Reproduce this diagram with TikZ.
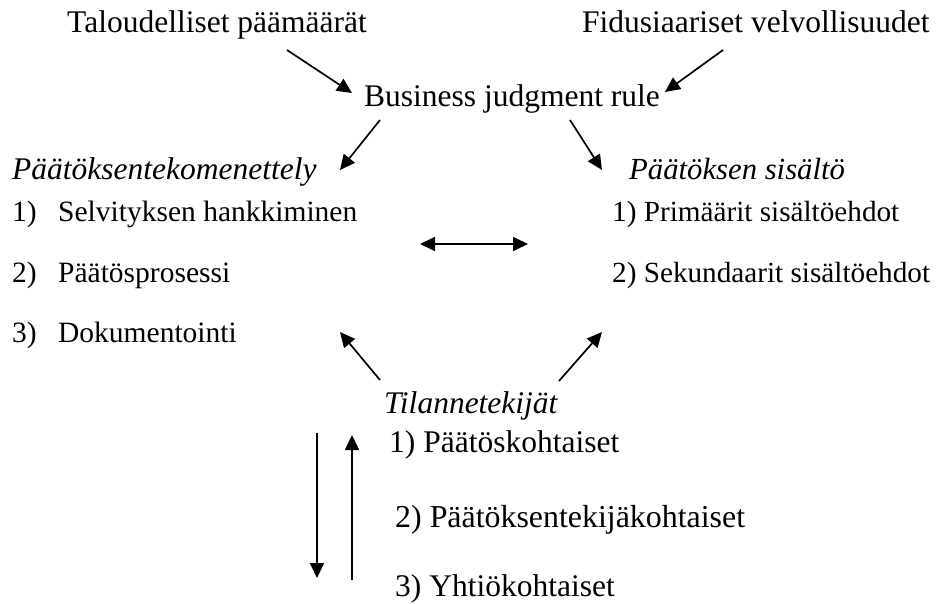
\documentclass[tikz,border=0pt]{standalone}
\usepackage{fontspec}
\setmainfont{Liberation Serif}
\usetikzlibrary{arrows.meta}
\begin{document}
\begin{tikzpicture}[x=1pt,y=-1pt,
  txt/.style={inner sep=0pt,anchor=base west,font=\fontsize{31.5}{36}\selectfont},
  itx/.style={txt,font=\fontsize{31.5}{36}\selectfont\itshape},
  lst/.style={txt,font=\fontsize{29.5}{34}\selectfont},
  arr/.style={line width=1.7pt,-{Triangle[length=15pt,width=14pt]}},
  darr/.style={line width=1.7pt,{Triangle[length=15pt,width=14pt]}-{Triangle[length=15pt,width=14pt]}}]
\useasboundingbox (0,0) rectangle (939,604);
% top
\node[txt] (tal) at (67,33) {Taloudelliset päämäärät};
\node[txt] (fid) at (582,33) {Fidusiaariset velvollisuudet};
\node[txt] (bjr) at (364,107) {Business judgment rule};
% left column
\node[itx] (pm) at (12,180) {Päätöksentekomenettely};
\node[lst] (l1n) at (12,222) {1)};
\node[lst] (l1) at (58,222) {Selvityksen hankkiminen};
\node[lst] (l2n) at (12,282) {2)};
\node[lst] (l2) at (58,282) {Päätösprosessi};
\node[lst] (l3n) at (12,342) {3)};
\node[lst] (l3) at (58,342) {Dokumentointi};
% right column
\node[itx,font=\fontsize{30.7}{36}\selectfont\itshape] (ps) at (629,180) {Päätöksen sisältö};
\node[lst,font=\fontsize{29.2}{34}\selectfont] (r1) at (612,222) {1) Primäärit sisältöehdot};
\node[lst,font=\fontsize{29.2}{34}\selectfont] (r2) at (612,282) {2) Sekundaarit sisältöehdot};
% bottom
\node[itx] (til) at (384,413) {Tilannetekijät};
\node[txt] (b1) at (389,452) {1) Päätöskohtaiset};
\node[txt,font=\fontsize{31.9}{36}\selectfont] (b2) at (395,527) {2) Päätöksentekijäkohtaiset};
\node[txt] (b3) at (395,596) {3) Yhtiökohtaiset};
% connector ends
\coordinate (a1s) at (287,50);  \coordinate (a1e) at (352,93);
\coordinate (a2s) at (723,50);  \coordinate (a2e) at (665,92);
\coordinate (a3s) at (380,120); \coordinate (a3e) at (340,170);
\coordinate (a4s) at (570,120); \coordinate (a4e) at (602,170);
\coordinate (a5s) at (420,244); \coordinate (a5e) at (528,244);
\coordinate (a6s) at (380,380); \coordinate (a6e) at (340,332);
\coordinate (a7s) at (559,381); \coordinate (a7e) at (602,332);
\coordinate (a8s) at (317,433); \coordinate (a8e) at (317,578);
\coordinate (a9s) at (352,580); \coordinate (a9e) at (352,435);
\draw[arr] (a1s) -- (a1e);
\draw[arr] (a2s) -- (a2e);
\draw[arr] (a3s) -- (a3e);
\draw[arr] (a4s) -- (a4e);
\draw[darr] (a5s) -- (a5e);
\draw[arr] (a6s) -- (a6e);
\draw[arr] (a7s) -- (a7e);
\draw[arr] (a8s) -- (a8e);
\draw[arr] (a9s) -- (a9e);
\end{tikzpicture}
\end{document}
